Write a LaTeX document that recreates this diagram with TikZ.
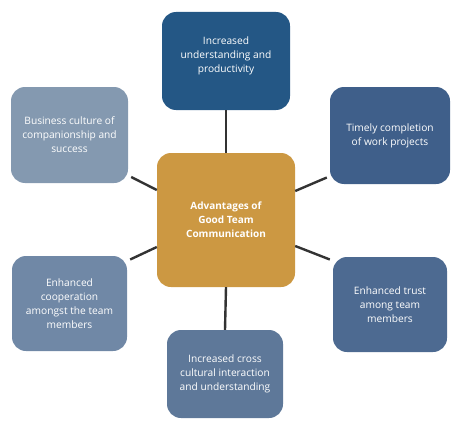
\documentclass[tikz,border=0pt]{standalone}
\usepackage{fontspec}
\setmainfont{Open Sans}
\usetikzlibrary{calc}
\definecolor{ctop}{HTML}{245785}
\definecolor{ctl}{HTML}{8499B0}
\definecolor{ctr}{HTML}{3F5F8A}
\definecolor{ccen}{HTML}{CC9842}
\definecolor{cbl}{HTML}{7088A6}
\definecolor{cbc}{HTML}{5E7899}
\definecolor{cbr}{HTML}{4D6A91}
\definecolor{cline}{HTML}{333333}
\tikzset{
  box/.style={rounded corners=14pt, inner sep=0pt, text=white, align=center,
    font=\fontsize{10.2}{14}\selectfont},
  link/.style={draw=cline, line width=2.4pt}
}
\begin{document}
\begin{tikzpicture}[x=1pt,y=-1pt]
\useasboundingbox (0,0) rectangle (460,428);
\node[box, fill=ctop, minimum width=128pt, minimum height=98pt] (top) at (226,61) {};
\node[box] (toptext) at (226,56) {Increased\\understanding and\\productivity};
\node[box, fill=ctl, minimum width=117pt, minimum height=96pt] (tl) at (69.5,135) {Business culture of\\companionship and\\success};
\node[box, fill=ctr, minimum width=120pt, minimum height=97pt] (tr) at (390,135.5) {Timely completion\\of work projects};
\node[box, fill=ccen, minimum width=138pt, minimum height=134pt, font=\fontsize{10}{14}\selectfont\bfseries] (c) at (226,220) {Advantages of\\Good Team\\Communication};
\node[box, fill=cbl, minimum width=115pt, minimum height=95pt] (bl) at (69.5,303.5) {Enhanced\\cooperation\\amongst the team\\members};
\node[box, fill=cbc, minimum width=116pt, minimum height=88pt] (bc) at (225,374) {Increased cross\\cultural interaction\\and understanding};
\node[box, fill=cbr, minimum width=114pt, minimum height=95pt] (br) at (390,304.5) {Enhanced trust\\among team\\members};
\draw[link] (top.south) -- (c.north);
\draw[link] (c.south) -- (bc.north);
\draw[link] ($(c.west)+(0,-30)$) -- ($(tl.east)+(3,42)$);
\draw[link] ($(c.east)+(0,-29)$) -- ($(tr.west)+(-3,42)$);
\draw[link] ($(c.west)+(0,27)$) -- ($(bl.east)+(3,-44)$);
\draw[link] ($(c.east)+(0,26)$) -- ($(br.west)+(-3,-45)$);
\end{tikzpicture}
\end{document}
